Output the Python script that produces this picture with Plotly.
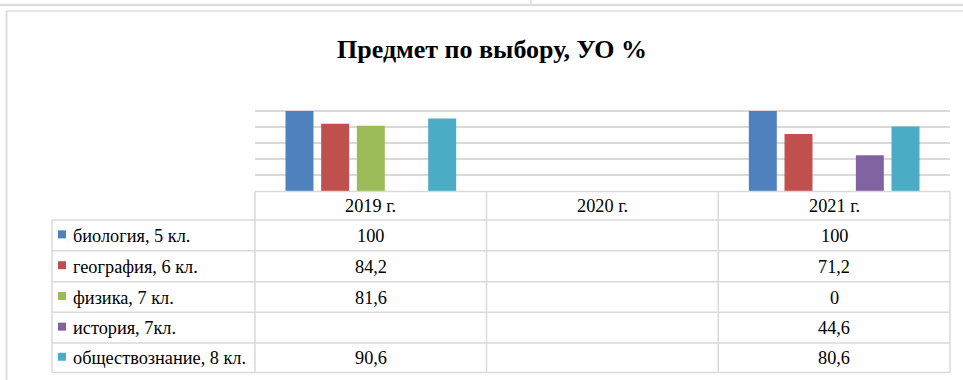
import plotly.graph_objects as go

# ---- data ---------------------------------------------------------------
years = ["2019 г.", "2020 г.", "2021 г."]
series_names = [
    "биология, 5 кл.",
    "география, 6 кл.",
    "физика, 7 кл.",
    "история, 7кл.",
    "обществознание, 8 кл.",
]
biology = [100, None, 100]
geography = [84.2, None, 71.2]
physics = [81.6, None, 0]
history = [None, None, 44.6]
social = [90.6, None, 80.6]
series_values = [biology, geography, physics, history, social]
colors = ["#4F81BD", "#C0504D", "#9BBB59", "#8064A2", "#4BACC6"]
title_text = "Предмет по выбору, УО %"

# ---- geometry (pixels) --------------------------------------------------
W, H = 963, 380
PL, PR, PT, PB = 255, 950, 95, 191          # plot area
TABLE_LEFT = 52
COL_EDGES = [255, 486.5, 718.3, 950]
ROW_EDGES = [191.5, 220, 250.7, 281.7, 312.3, 343, 372.5]
LINE = "#D9D9D9"
FONT = "Liberation Serif"


def px(x):
    return (x - PL) / (PR - PL)


def py(y):
    return (PB - y) / (PB - PT)


def fmt(v):
    if v is None:
        return ""
    return ("%g" % v).replace(".", ",")


fig = go.Figure()
for name, vals, col in zip(series_names, series_values, colors):
    fig.add_trace(go.Bar(
        x=years, y=vals, name=name,
        marker=dict(color=col, line=dict(width=0)),
    ))

shapes = []
annotations = []


def hline(y, x0, x1, color=LINE, width=1.5):
    shapes.append(dict(type="line", xref="paper", yref="paper",
                       x0=px(x0), x1=px(x1), y0=py(y), y1=py(y),
                       line=dict(color=color, width=width)))


def vline(x, y0, y1, color=LINE, width=1.5):
    shapes.append(dict(type="line", xref="paper", yref="paper",
                       x0=px(x), x1=px(x), y0=py(y0), y1=py(y1),
                       line=dict(color=color, width=width)))


# page strip above the chart and chart frame
hline(5, 0, W, color="#DCDCDC", width=2.5)
vline(531, 0, 5, color="#DCDCDC", width=1.5)
hline(11, 6, W, color="#DCDCDC", width=1.5)
vline(6.5, 11, H, color="#DCDCDC", width=2)

# data table grid
hline(ROW_EDGES[0], COL_EDGES[0], COL_EDGES[-1])
for y in ROW_EDGES[1:]:
    hline(y, TABLE_LEFT, COL_EDGES[-1])
vline(TABLE_LEFT, ROW_EDGES[1], ROW_EDGES[-1])
for x in COL_EDGES:
    vline(x, ROW_EDGES[0], ROW_EDGES[-1])

text_font = dict(family=FONT, size=18.3, color="#000000")

# header row: year labels
for i, yr in enumerate(years):
    cx = (COL_EDGES[i] + COL_EDGES[i + 1]) / 2
    annotations.append(dict(
        xref="paper", yref="paper", x=px(cx),
        y=py((ROW_EDGES[0] + ROW_EDGES[1]) / 2 + 0.5),
        text=yr, showarrow=False, xanchor="center", yanchor="middle",
        font=text_font))

# series rows: legend key, name and values
for r, (name, vals, col) in enumerate(zip(series_names, series_values, colors)):
    yc = (ROW_EDGES[r + 1] + ROW_EDGES[r + 2]) / 2
    shapes.append(dict(type="rect", xref="paper", yref="paper",
                       x0=px(58), x1=px(66), y0=py(yc - 5), y1=py(yc + 3),
                       fillcolor=col, line=dict(width=0)))
    annotations.append(dict(
        xref="paper", yref="paper", x=px(70.5), y=py(yc + 0.5),
        text=name, showarrow=False, xanchor="left", yanchor="middle",
        font=text_font))
    for i, v in enumerate(vals):
        cx = (COL_EDGES[i] + COL_EDGES[i + 1]) / 2
        annotations.append(dict(
            xref="paper", yref="paper", x=px(cx), y=py(yc + 0.5),
            text=fmt(v), showarrow=False, xanchor="center", yanchor="middle",
            font=text_font))

# chart title
annotations.append(dict(
    xref="paper", yref="paper", x=px(491.5), y=py(49.5),
    text="<b>%s</b>" % title_text, showarrow=False,
    xanchor="center", yanchor="middle",
    font=dict(family=FONT, size=26, color="#000000")))

fig.update_layout(
    width=W, height=H,
    margin=dict(l=PL, r=W - PR, t=PT, b=H - PB, pad=0),
    paper_bgcolor="#FFFFFF", plot_bgcolor="#FFFFFF",
    barmode="group", bargap=0.23, bargroupgap=0.216,
    showlegend=False,
    shapes=shapes, annotations=annotations,
    xaxis=dict(type="category", showticklabels=False, showgrid=False,
               showline=False, zeroline=False, ticks=""),
    yaxis=dict(range=[0, 120], dtick=20, showticklabels=False,
               showgrid=True, gridcolor=LINE, gridwidth=1.5,
               zeroline=False, showline=False, ticks=""),
)

fig.write_html("out.html")
